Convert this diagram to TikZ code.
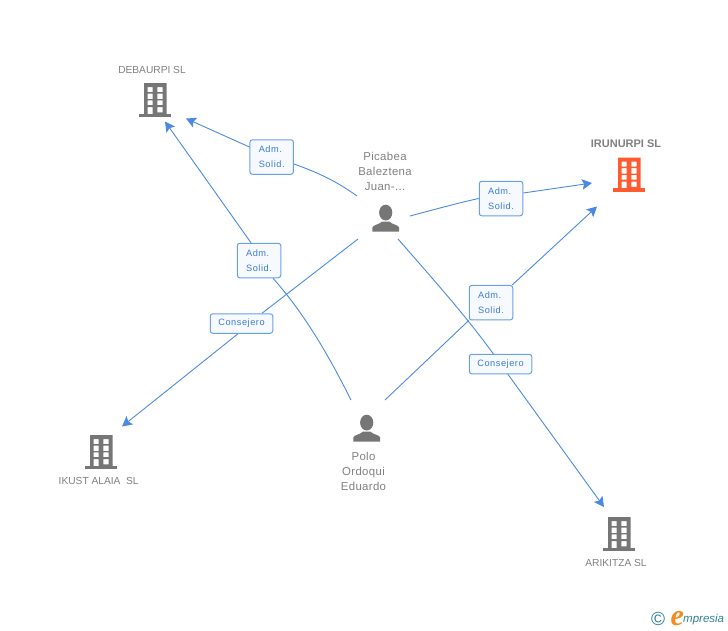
\documentclass[tikz,border=0pt]{standalone}
\usepackage{fontspec}
\setmainfont{Liberation Sans}
\newfontfamily\logoserif{Liberation Serif}
\usetikzlibrary{arrows.meta,backgrounds}
\definecolor{iconGrey}{HTML}{767676}
\definecolor{textGrey}{HTML}{808080}
\definecolor{hotOrange}{HTML}{FF5A30}
\definecolor{linkBlue}{HTML}{4A8AE2}
\definecolor{boxBlue}{HTML}{6AA0E6}
\definecolor{labelBlue}{HTML}{3A7CD8}
\definecolor{boxFill}{HTML}{F6F9FE}
\definecolor{logoTeal}{HTML}{2F7F96}
\definecolor{logoOrange}{HTML}{F58A1F}
\tikzset{
  conn/.style={draw=linkBlue,line width=0.9pt},
  tipped/.style={conn,-{Stealth[length=10pt,width=10.5pt,inset=2pt]}},
  rolebox/.style={draw=boxBlue,line width=1pt,fill=boxFill,rounded corners=2.5pt,inner sep=0pt,
    text=labelBlue,align=left,font=\fontsize{9.2}{15}\selectfont\addfontfeature{LetterSpace=6}},
  adm/.style={rolebox,minimum width=43.5pt,minimum height=34.5pt},
  cons/.style={rolebox,minimum width=62.5pt,minimum height=19.5pt},
  co/.style={text=textGrey,anchor=base,inner sep=0pt,font=\fontsize{10.2}{12}\selectfont},
  per/.style={text=textGrey,anchor=base,inner sep=0pt,align=center,
    font=\fontsize{11.4}{15}\selectfont\addfontfeature{LetterSpace=3}},
  pics/building/.style={code={
    \fill[#1,even odd rule]
      (-11,0) rectangle (11.5,31)
      (-7.3,4) rectangle (-2.3,9) (2.3,4) rectangle (7.7,9)
      (-7.3,10.7) rectangle (-2.3,16) (2.3,10.7) rectangle (7.7,16)
      (-7.3,17.3) rectangle (-2.3,22) (2.3,17.3) rectangle (7.7,22)
      (-7.3,24) rectangle (-2.3,31) (2.3,24) rectangle (7.7,29.3);
    \fill[#1] (-16,30.8) rectangle (16,34);
  }},
  pics/person/.style={code={
    \fill[iconGrey] (0,7.6) ellipse[x radius=6.6,y radius=7.9];
    \fill[iconGrey] (-13.4,26.7) -- (-13.4,22.6) .. controls (-13.4,20) and (-6,19.5) .. (-3.6,16.5)
      -- (3.6,16.5) .. controls (6,19.5) and (13.4,20) .. (13.4,22.6) -- (13.4,26.7) -- cycle;
  }}
}
\begin{document}
\begin{tikzpicture}[x=1pt,y=-1pt]
\path[use as bounding box] (0,0) rectangle (728,630);

% company and person icons
\pic at (155,83) {building=iconGrey};
\pic at (629,157.5) {building=hotOrange};
\pic at (101,435) {building=iconGrey};
\pic at (619,517) {building=iconGrey};
\pic at (385.7,205) {person};
\pic at (366.7,415) {person};

% texts
\node[co] (tdebaurpi) at (152,73) {DEBAURPI SL};
\node[co,font=\fontsize{11}{12}\selectfont\bfseries] (tirunurpi) at (626,147) {IRUNURPI SL};
\node[co] (tikust) at (98.7,484.5) {IKUST ALAIA\ \ SL};
\node[co] (tarikitza) at (616,566) {ARIKITZA SL};
\node[per] (tpicabea) at (385,190) {Picabea\\Baleztena\\Juan-...};
\node[per] (tpolo) at (363.5,490) {Polo\\Ordoqui\\Eduardo};

% role labels
\node[adm] (la) at (271.7,157) {Adm.\\Solid.};
\node[adm] (lb) at (259,260.5) {Adm.\\Solid.};
\node[adm] (lc) at (501,198.5) {Adm.\\Solid.};
\node[adm] (ld) at (491,302.7) {Adm.\\Solid.};
\node[cons] (le) at (241.5,323.5) {Consejero};
\node[cons] (lf) at (500.5,364) {Consejero};

% connector ends
\coordinate (picW) at (357,196);
\coordinate (picE) at (410,216);
\coordinate (picSW) at (358,239);
\coordinate (picSE) at (398,239);
\coordinate (polNW) at (351,400);
\coordinate (polNE) at (385,400);
\coordinate (debE) at (186,118.5);
\coordinate (debS) at (165,121.5);
\coordinate (iruW) at (592,183);
\coordinate (iruS) at (597,206.5);
\coordinate (ikuNE) at (122,426.5);
\coordinate (ariNW) at (604,507);

\begin{scope}[on background layer]
  \draw[conn] (picW) .. controls (335,180) and (310,168) .. (la.center);
  \draw[tipped] (la.center) -- (debE);
  \draw[conn] (polNW) .. controls (327,352) and (303,312) .. ([xshift=14pt]lb.south);
  \draw[tipped] ([xshift=-8pt]lb.north) -- (debS);
  \draw[conn] (picE) .. controls (440,208) and (462,202) .. (lc.west);
  \draw[tipped] ([yshift=5.5pt]lc.east) -- (iruW);
  \draw[conn] (polNE) -- (ld.south west);
  \draw[tipped] ([xshift=-1pt]ld.north east) -- (iruS);
  \draw[conn] (picSW) -- ([xshift=20.5pt]le.north);
  \draw[tipped] ([xshift=-3.5pt]le.south) -- (ikuNE);
  \draw[conn] (picSE) .. controls (440,287) and (472,323) .. (lf.center);
  \draw[tipped] (lf.center) -- (ariNW);
\end{scope}

% logo
\node[anchor=base,inner sep=0pt,text=logoTeal,font=\fontsize{19}{19}\selectfont] (logoc) at (658,625) {©};
\node[anchor=base west,inner sep=0pt,text=logoOrange,font=\logoserif\fontsize{30}{30}\selectfont\bfseries\itshape] (logoe) at (670.5,625) {e};
\node[anchor=base west,inner sep=0pt,text=logoTeal,font=\fontsize{11.5}{12}\selectfont\itshape] (logom) at (683,622.5) {mpresia};
\end{tikzpicture}
\end{document}
